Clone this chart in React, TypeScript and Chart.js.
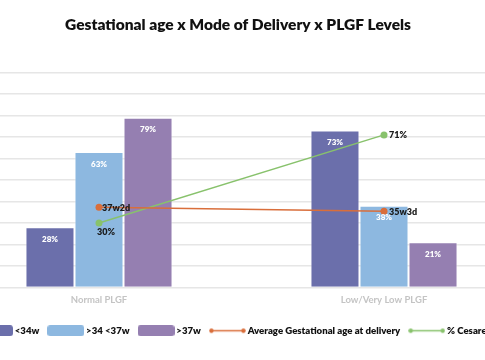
import React, { useEffect, useRef } from "react";
import { Chart, registerables } from "chart.js";

Chart.register(...registerables);

const categories = ["Normal PLGF", "Low/Very Low PLGF"];
const under34 = [28, 73];
const between34and37 = [63, 38];
const over37 = [79, 21];
const avgGestationalAge = [37.29, 35.43];
const avgGestationalAgeLabels = ["37w2d", "35w3d"];
const cesareanPct = [30, 71];
const yTicks = [0, 10, 20, 30, 40, 50, 60, 70, 80, 90, 100];

const C1 = "#6b6fab";
const C2 = "#8db8e0";
const C3 = "#957fb1";
const CO = "#d96e3b";
const CG = "#88c26c";
const FONT = "Lato, 'Open Sans', sans-serif";

const CANVAS_LEFT = -160;
const CANVAS_W = 796;

function boxImage(color: string) {
  const c = document.createElement("canvas");
  c.width = 37;
  c.height = 11;
  const g = c.getContext("2d")!;
  g.fillStyle = color;
  const r = 3;
  g.beginPath();
  g.moveTo(r, 0);
  g.lineTo(37 - r, 0);
  g.quadraticCurveTo(37, 0, 37, r);
  g.lineTo(37, 11 - r);
  g.quadraticCurveTo(37, 11, 37 - r, 11);
  g.lineTo(r, 11);
  g.quadraticCurveTo(0, 11, 0, 11 - r);
  g.lineTo(0, r);
  g.quadraticCurveTo(0, 0, r, 0);
  g.fill();
  return c;
}

function lineImage(color: string) {
  const c = document.createElement("canvas");
  c.width = 37;
  c.height = 11;
  const g = c.getContext("2d")!;
  g.strokeStyle = color;
  g.fillStyle = color;
  g.lineWidth = 1.5;
  g.beginPath();
  g.moveTo(2.5, 5.5);
  g.lineTo(34.5, 5.5);
  g.stroke();
  [2.5, 34.5].forEach((x) => {
    g.beginPath();
    g.arc(x, 5.5, 2.2, 0, Math.PI * 2);
    g.fill();
  });
  return c;
}

const labelPlugin = {
  id: "valueLabels",
  afterDatasetsDraw(chart: any) {
    const ctx = chart.ctx;
    chart.data.datasets.forEach((ds: any, i: number) => {
      const meta = chart.getDatasetMeta(i);
      meta.data.forEach((el: any, j: number) => {
        const { x, y } = el.getProps(["x", "y"], true);
        ctx.save();
        if (ds.type === "bar") {
          ctx.font = `800 8px ${FONT}`;
          ctx.fillStyle = "#ffffff";
          ctx.textAlign = "center";
          ctx.textBaseline = "middle";
          ctx.fillText(ds.data[j] + "%", x, y + 12);
        } else if (ds.labelKind === "ga") {
          ctx.font = `800 9px ${FONT}`;
          ctx.fillStyle = "#1a1a1a";
          ctx.textAlign = "left";
          ctx.textBaseline = "middle";
          ctx.fillText(avgGestationalAgeLabels[j], x + 3 + j * 2, y + 0.5);
        } else if (ds.labelKind === "ces") {
          ctx.font = `800 9px ${FONT}`;
          ctx.fillStyle = "#1a1a1a";
          ctx.textBaseline = "middle";
          if (j === 0) {
            ctx.textAlign = "center";
            ctx.fillText(cesareanPct[j] + "%", x + 7, y + 9);
          } else {
            ctx.textAlign = "left";
            ctx.fillText(cesareanPct[j] + "%", x + 5, y);
          }
        }
        ctx.restore();
      });
    });
  },
};

export default function App() {
  const ref = useRef<HTMLCanvasElement>(null);
  useEffect(() => {
    const images = [boxImage(C1), boxImage(C2), boxImage(C3), lineImage(CO), lineImage(CG)];
    const chart = new Chart(ref.current!, {
      type: "bar",
      data: {
        labels: categories,
        datasets: [
          { type: "bar", label: "<34w", data: under34, backgroundColor: C1, borderColor: "rgba(255,255,255,0.5)", borderWidth: 1, order: 2 },
          { type: "bar", label: ">34 <37w", data: between34and37, backgroundColor: C2, borderColor: "rgba(255,255,255,0.5)", borderWidth: 1, order: 2 },
          { type: "bar", label: ">37w", data: over37, backgroundColor: C3, borderColor: "rgba(255,255,255,0.5)", borderWidth: 1, order: 2 },
          { type: "line", label: "Average Gestational age at delivery", data: avgGestationalAge, borderColor: CO, backgroundColor: CO, borderWidth: 1.5, pointRadius: 3.5, pointBackgroundColor: CO, pointBorderWidth: 0, order: 1, labelKind: "ga" } as any,
          { type: "line", label: "% Cesarean", data: cesareanPct, borderColor: CG, backgroundColor: CG, borderWidth: 1.5, pointRadius: 3.5, pointBackgroundColor: CG, pointBorderWidth: 0, order: 1, labelKind: "ces" } as any,
        ],
      },
      options: {
        responsive: false,
        animation: false,
        layout: { padding: { left: 0, right: 0, top: 0, bottom: 14.5 } },
        datasets: { bar: { categoryPercentage: 0.516, barPercentage: 1 } },
        scales: {
          x: {
            grid: { display: false, drawTicks: false },
            border: { display: false },
            afterFit: (s: any) => { s.height = 27.5; },
            ticks: { color: "#c4c4c4", font: { family: FONT, size: 9.5, weight: 700 as any }, padding: 7 },
          },
          y: {
            min: 0,
            max: 100,
            afterBuildTicks: (s: any) => { s.ticks = yTicks.map((v) => ({ value: v })); },
            afterFit: (s: any) => { s.width = -43.5 - CANVAS_LEFT; },
            ticks: { display: false },
            grid: { color: "#e6e6e6", lineWidth: 1.5, drawTicks: false },
            border: { display: false },
          },
          yRight: {
            display: true,
            position: "right",
            afterFit: (s: any) => { s.width = CANVAS_LEFT + CANVAS_W - 526.5; },
            ticks: { display: false },
            grid: { display: false, drawTicks: false },
            border: { display: false },
          },
        },
        plugins: {
          title: {
            display: true,
            text: "Gestational age x Mode of Delivery x PLGF Levels",
            color: "#111111",
            font: { family: FONT, size: 15.5, weight: 800 as any },
            padding: { top: 16, bottom: 38 },
          },
          legend: {
            position: "bottom",
            labels: {
              usePointStyle: true,
              pointStyleWidth: 31,
              padding: 11,
              color: "#111111",
              font: { family: FONT, size: 9.6, weight: 800 as any },
              generateLabels: (c: any) =>
                c.data.datasets.map((ds: any, i: number) => ({
                  text: ds.label,
                  datasetIndex: i,
                  pointStyle: images[i],
                  fillStyle: ds.backgroundColor,
                  strokeStyle: ds.borderColor,
                  lineWidth: 0,
                  fontColor: "#111111",
                  hidden: false,
                })),
            },
          },
          tooltip: { enabled: false },
        },
      },
      plugins: [labelPlugin],
    });
    return () => chart.destroy();
  }, []);
  return (
    <div style={{ position: "fixed", left: 0, top: 0, width: 485, height: 360, overflow: "hidden", background: "#fff" }}>
      <canvas ref={ref} width={CANVAS_W} height={360} style={{ position: "absolute", left: CANVAS_LEFT, top: 0, width: CANVAS_W, height: 360 }} />
    </div>
  );
}
